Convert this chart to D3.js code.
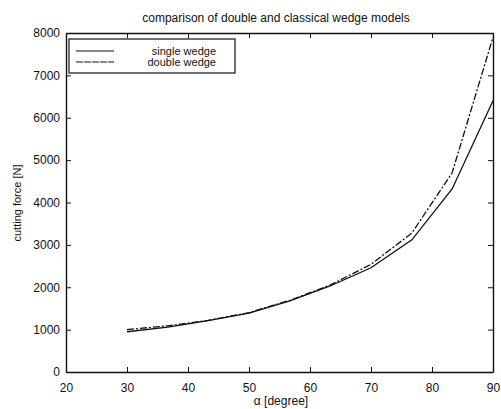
<!DOCTYPE html>
<html>
<head>
<meta charset="utf-8">
<script src="https://cdn.jsdelivr.net/npm/d3@7"></script>
<style>
body { margin: 0; background: #fff; }
text { font-family: "Liberation Sans", Arial, sans-serif; fill: #111; }
</style>
</head>
<body>
<svg id="chart"></svg>
<script>
var width = 501, height = 409

// angle alpha [degree]
var alpha = [30, 36.7, 43.3, 50, 56.7, 63.3, 70, 76.7, 83.3, 90]
// cutting force [N]
var singleWedge = [950, 1060, 1210, 1390, 1680, 2030, 2460, 3120, 4320, 6400]
var doubleWedge = [1000, 1090, 1220, 1400, 1690, 2050, 2540, 3280, 4700, 7900]
var xTicks = [20, 30, 40, 50, 60, 70, 80, 90]
var yTicks = [0, 1000, 2000, 3000, 4000, 5000, 6000, 7000, 8000]
var seriesNames = ["single wedge", "double wedge"]

var margin = {left: 66, right: 8, top: 33, bottom: 37}

var svg = d3.select("#chart")
    .attr("width", width)
    .attr("height", height)

var x = d3.scaleLinear().domain([20, 90]).range([margin.left, width - margin.right])
var y = d3.scaleLinear().domain([0, 8000]).range([height - margin.bottom, margin.top])

var g = svg.append("g")

// axes, ticks pointing inwards like matlab
g.append("g")
    .attr("transform", "translate(0," + y(0) + ")")
    .call(d3.axisBottom(x).tickValues(xTicks).tickSize(-5).tickPadding(11).tickFormat(d3.format("d")).tickSizeOuter(0))
g.append("g")
    .attr("transform", "translate(0," + y(8000) + ")")
    .call(d3.axisTop(x).tickValues(xTicks).tickSize(-5).tickFormat("").tickSizeOuter(0))
g.append("g")
    .attr("transform", "translate(" + x(20) + ",0)")
    .call(d3.axisLeft(y).tickValues(yTicks).tickSize(-5).tickPadding(6).tickFormat(d3.format("d")).tickSizeOuter(0))
g.append("g")
    .attr("transform", "translate(" + x(90) + ",0)")
    .call(d3.axisRight(y).tickValues(yTicks).tickSize(-5).tickFormat("").tickSizeOuter(0))

g.selectAll(".domain").attr("stroke", "#111").attr("stroke-width", 1.4)
g.selectAll(".tick line").attr("stroke", "#111").attr("stroke-width", 1)
g.selectAll(".tick text").style("font-size", "12px").attr("fill", "#111")

var line = d3.line()
    .x(function(d, i) { return x(alpha[i]) })
    .y(function(d) { return y(d) })

g.append("path")
    .datum(singleWedge)
    .attr("d", line)
    .attr("fill", "none")
    .attr("stroke", "#111")
    .attr("stroke-width", 1.3)

g.append("path")
    .datum(doubleWedge)
    .attr("d", line)
    .attr("fill", "none")
    .attr("stroke", "#111")
    .attr("stroke-width", 1.3)
    .attr("stroke-dasharray", "7,2,2,2")

// legend
var leg = g.append("g")
leg.append("rect")
    .attr("x", 69).attr("y", 39)
    .attr("width", 166).attr("height", 34)
    .attr("fill", "#fff")
    .attr("stroke", "#111")
    .attr("stroke-width", 1.2)
seriesNames.forEach(function(name, i) {
    var ly = 51 + i * 11
    leg.append("line")
        .attr("x1", 76).attr("x2", 114)
        .attr("y1", ly).attr("y2", ly)
        .attr("stroke", "#111")
        .attr("stroke-width", 1.2)
        .attr("stroke-dasharray", i == 1 ? "7,1" : null)
    leg.append("text")
        .attr("x", 216).attr("y", ly + 4)
        .attr("text-anchor", "end")
        .style("font-size", "11px")
        .text(name)
})

// title and axis labels
svg.append("text")
    .attr("x", 276).attr("y", 22)
    .attr("text-anchor", "middle")
    .style("font-size", "12px")
    .text("comparison of double and classical wedge models")

svg.append("text")
    .attr("x", 281).attr("y", 405)
    .attr("text-anchor", "middle")
    .style("font-size", "12px")
    .text("α [degree]")

svg.append("text")
    .attr("transform", "translate(21," + 203 + ") rotate(-90)")
    .attr("text-anchor", "middle")
    .style("font-size", "11px")
    .text("cutting force [N]")
</script>
</body>
</html>
